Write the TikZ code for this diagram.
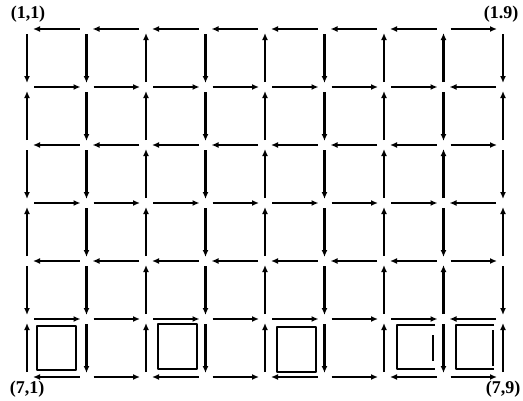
\documentclass[tikz,border=0pt]{standalone}
\usepackage{fontspec}
\setmainfont{Liberation Serif}
\usetikzlibrary{arrows.meta}
\begin{document}
\begin{tikzpicture}[x=1pt,y=-1pt,
  arr/.style={line width=2.8pt,-{Latex[length=7pt,width=6pt]}},
  harr/.style={arr,shorten >=6pt,shorten <=7pt},
  varr/.style={arr,shorten >=4pt,shorten <=5pt},
  sqline/.style={line width=2.3pt,line join=round},
  lbl/.style={font=\fontsize{18}{18}\selectfont\bfseries,inner sep=0pt}]
\useasboundingbox (0,0) rectangle (523,400);
\fill[white] (0,0) rectangle (523,400);
% grid points
\foreach \i in {1,...,7}{
  \foreach \j in {1,...,9}{
    \coordinate (n-\i-\j) at ({27+59.5*(\j-1)},{29+58*(\i-1)});
  }
}
% horizontal arrows
\foreach \i/\row in {1/{L,L,L,L,L,L,L,R},2/{R,R,R,R,R,R,R,L},3/{L,L,L,L,L,L,L,R},
                     4/{R,R,R,R,R,R,R,L},5/{L,L,L,L,L,L,L,R},6/{R,R,R,R,R,R,R,L},
                     7/{L,R,L,R,L,R,L,R}}{
  \foreach \d [count=\j] in \row {
    \pgfmathtruncatemacro\k{\j+1}
    \if\d R
      \draw[harr] (n-\i-\j) -- (n-\i-\k);
    \else
      \draw[harr] (n-\i-\k) -- (n-\i-\j);
    \fi
  }
}
% vertical arrows
\foreach \i/\col in {1/{D,D,U,D,U,D,U,U,D},2/{U,D,U,D,U,D,U,D,U},3/{D,D,U,D,U,D,U,U,D},
                     4/{U,D,U,D,U,D,U,D,U},5/{D,D,U,D,U,D,U,U,D},6/{U,D,U,D,U,D,U,D,U}}{
  \foreach \d [count=\j] in \col {
    \pgfmathtruncatemacro\k{\i+1}
    \if\d D
      \draw[varr] (n-\i-\j) -- (n-\k-\j);
    \else
      \draw[varr] (n-\k-\j) -- (n-\i-\j);
    \fi
  }
}
% small squares in the bottom row
\draw[sqline] (37,326) rectangle (76,370);
\draw[sqline] (158,324) rectangle (197,369);
\draw[sqline] (277,327) rectangle (316,372);
\draw[sqline] (435,325) -- (397,325) -- (397,369) -- (435,369);
\draw[sqline] (433,335) -- (433,361);
\draw[sqline] (494,325) -- (456,325) -- (456,369) -- (494,369);
\draw[sqline] (493,330) -- (493,366);
% corner labels
\node[lbl] (l11) at (28,14) {(1,1)};
\node[lbl] (l19) at (501,14) {(1.9)};
\node[lbl] (l71) at (27,389) {(7,1)};
\node[lbl] (l79) at (503,389) {(7,9)};
\end{tikzpicture}
\end{document}
